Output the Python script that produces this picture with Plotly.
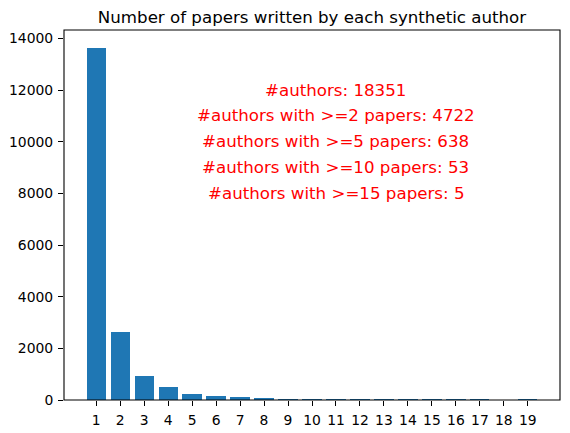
import plotly.graph_objects as go

papers = list(range(1, 20))
counts = [13629, 2640, 940, 504, 240, 160, 100, 55, 30, 18, 12, 8, 6, 4, 2, 1, 1, 0, 1]
y_ticks = [0, 2000, 4000, 6000, 8000, 10000, 12000, 14000]
notes = [
    "#authors: 18351",
    "#authors with >=2 papers: 4722",
    "#authors with >=5 papers: 638",
    "#authors with >=10 papers: 53",
    "#authors with >=15 papers: 5",
]
note_x = 11
note_y = [12000, 11000, 10000, 9000, 8000]

FONT = "DejaVu Sans"

fig = go.Figure()
fig.add_trace(go.Bar(x=papers, y=counts, width=0.8, marker=dict(color="#1f77b4", line=dict(width=0))))

for t, yy in zip(notes, note_y):
    fig.add_annotation(x=note_x, y=yy, xref="x", yref="y", text=t, showarrow=False,
                       xanchor="center", yanchor="middle",
                       font=dict(family=FONT, size=16.67, color="red"))

# axes frame (spines), drawn centred on the plot-area edges like matplotlib
fig.add_shape(type="rect", xref="paper", yref="paper", x0=0, x1=1, y0=0, y1=1,
              line=dict(color="black", width=1.1), layer="above")

fig.update_layout(
    width=570, height=433,
    margin=dict(l=64, r=10, t=30, b=33, autoexpand=False),
    paper_bgcolor="white", plot_bgcolor="white",
    showlegend=False,
    bargap=0,
    font=dict(family=FONT, size=13.9, color="black"),
    title=dict(text="Number of papers written by each synthetic author",
               x=(64 + 560) / 2 / 570, xanchor="center", y=1 - 17 / 433, yanchor="middle",
               automargin=False,
               font=dict(family=FONT, size=16.67, color="black")),
)
fig.update_xaxes(range=[-0.34, 20.34], tickmode="array", tickvals=papers,
                 ticktext=[str(p) for p in papers], automargin=False,
                 showline=False, ticklabelstandoff=2,
                 ticks="outside", ticklen=5, tickcolor="black", tickwidth=1,
                 showgrid=False, zeroline=False,
                 tickfont=dict(family=FONT, size=13.9, color="black"))
fig.update_yaxes(range=[0, 14326], tickmode="array", tickvals=y_ticks,
                 ticktext=[str(v) for v in y_ticks], automargin=False,
                 showline=False, ticklabelstandoff=2,
                 ticks="outside", ticklen=5, tickcolor="black", tickwidth=1,
                 showgrid=False, zeroline=False,
                 tickfont=dict(family=FONT, size=13.9, color="black"))

fig.write_html("out.html",
               config={"displayModeBar": False},
               post_script="document.body.style.margin='0';document.body.style.overflow='hidden';")
